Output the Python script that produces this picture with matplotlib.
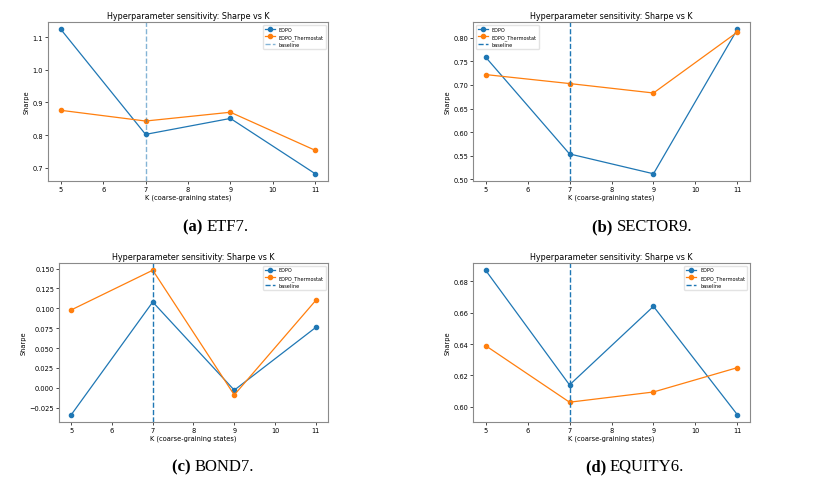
import matplotlib
matplotlib.use("Agg")
import matplotlib.pyplot as plt

K = [5, 7, 9, 11]
baseline_k = 7

panels = ["ETF7.", "SECTOR9.", "BOND7.", "EQUITY6."]
letters = ["(a)", "(b)", "(c)", "(d)"]

edpo_etf7 = [1.125, 0.802, 0.851, 0.681]
thermo_etf7 = [0.876, 0.843, 0.870, 0.753]

edpo_sector9 = [0.759, 0.554, 0.512, 0.818]
thermo_sector9 = [0.722, 0.703, 0.683, 0.812]

edpo_bond7 = [-0.034, 0.108, -0.003, 0.076]
thermo_bond7 = [0.098, 0.148, -0.009, 0.110]

edpo_equity6 = [0.687, 0.614, 0.664, 0.595]
thermo_equity6 = [0.639, 0.603, 0.6095, 0.625]

series = [(edpo_etf7, thermo_etf7), (edpo_sector9, thermo_sector9),
          (edpo_bond7, thermo_bond7), (edpo_equity6, thermo_equity6)]
legend_locs = ["upper right", "upper left", "upper right", "upper right"]
baseline_alpha = [0.55, 1.0, 1.0, 1.0]

W, H = 826, 485
fig = plt.figure(figsize=(W / 100, H / 100), dpi=100)

# pixel boxes: left, top, right, bottom
boxes = [(48, 23, 328, 182), (473, 23, 750, 182),
         (59, 264, 328, 423), (473, 264, 750, 423)]
caption_pos = [(216, 227), (642, 227), (213, 467), (635, 467)]

for i, (box, (e, t)) in enumerate(zip(boxes, series)):
    l, tp, r, b = box
    ax = fig.add_axes([l / W, 1 - b / H, (r - l) / W, (b - tp) / H])
    ax.plot(K, e, marker="o", color="C0", lw=0.9, ms=3, label="EDPO")
    ax.plot(K, t, marker="o", color="C1", lw=0.9, ms=3, label="EDPO_Thermostat")
    ax.axvline(baseline_k, color="C0", ls="--", lw=1.0, alpha=baseline_alpha[i],
               label="baseline")
    ax.set_title("Hyperparameter sensitivity: Sharpe vs K", fontsize=5.8, pad=3)
    ax.set_xlabel("K (coarse-graining states)", fontsize=4.8, labelpad=1.5)
    ax.set_ylabel("Sharpe", fontsize=4.8, labelpad=2)
    ax.tick_params(labelsize=4.8, length=2, width=0.5, pad=1.5)
    for s in ax.spines.values():
        s.set_color("#8a8a8a")
        s.set_linewidth(0.8)
    ax.legend(loc=legend_locs[i], fontsize=3.6, frameon=True, framealpha=0.8,
              edgecolor="#dddddd", borderpad=0.4, handlelength=2.0,
              labelspacing=0.5)

fig.canvas.draw()
renderer = fig.canvas.get_renderer()
for (cx, cy), let, name in zip(caption_pos, letters, panels):
    t1 = fig.text(0, 0, let + " ", fontsize=12, fontweight="bold",
                  family="Liberation Serif", va="center", ha="left")
    t2 = fig.text(0, 0, name, fontsize=12, family="Liberation Serif",
                  va="center", ha="left")
    w1 = t1.get_window_extent(renderer).width
    w2 = t2.get_window_extent(renderer).width
    x0 = cx - (w1 + w2) / 2
    t1.set_position((x0 / W, 1 - cy / H))
    t2.set_position(((x0 + w1) / W, 1 - cy / H))

fig.savefig("out.png", dpi=100)
